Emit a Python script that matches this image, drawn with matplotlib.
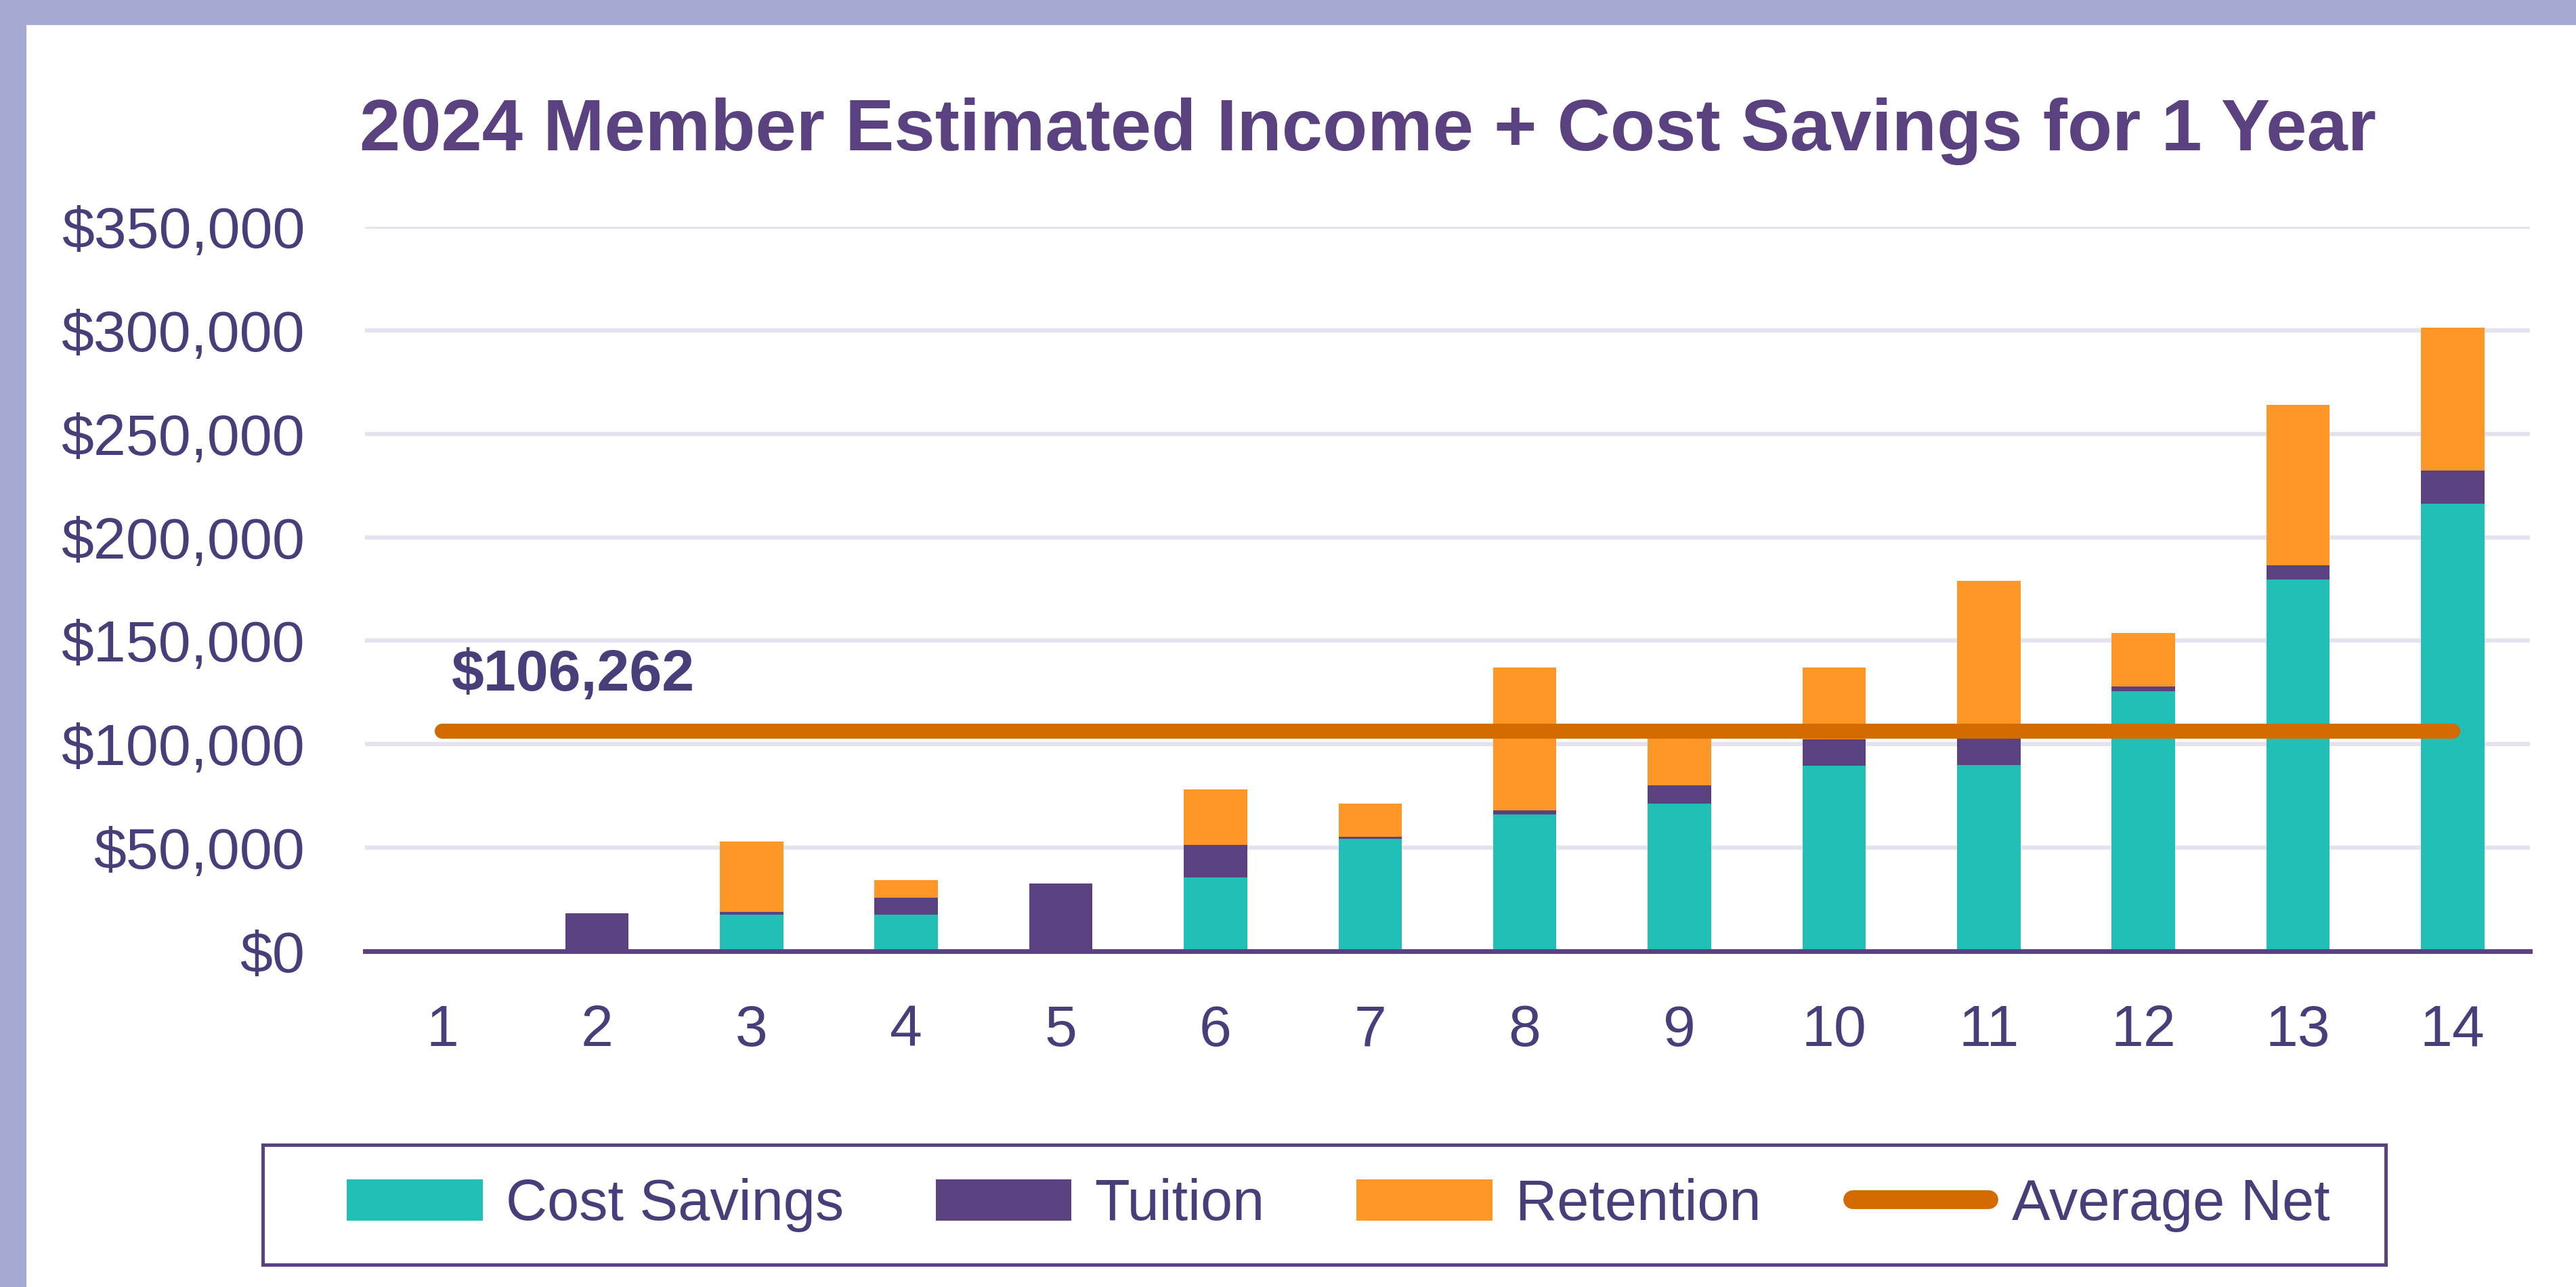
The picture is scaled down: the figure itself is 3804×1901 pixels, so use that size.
import numpy as np
import matplotlib
matplotlib.use("Agg")
import matplotlib.pyplot as plt
from matplotlib.patches import Patch, Rectangle
from matplotlib.lines import Line2D
from matplotlib.ticker import FuncFormatter

plt.rcParams['font.family'] = ['Liberation Sans', 'DejaVu Sans']

# data
members = [str(i) for i in range(1, 15)]
cost_savings = [0, 0, 17500, 17500, 0, 35800, 54300, 66100, 71200, 89500, 90000, 125700, 179600, 216300]
tuition = [0, 18300, 1500, 8400, 32700, 15600, 1000, 2000, 9100, 13000, 13000, 2200, 6800, 16000]
retention = [0, 0, 34000, 8500, 0, 26700, 16000, 69100, 23700, 34500, 76000, 25900, 77700, 68800]
average_net = 106262

title = '2024 Member Estimated Income + Cost Savings for 1 Year'

teal = '#22BFB6'
purple = '#5A4280'
orange = '#FD9828'
line_col = '#D36C00'
text_col = '#463F7A'
grid_col = '#E6E1EF'

W, H = 3804, 1901
fig = plt.figure(figsize=(W / 100, H / 100), dpi=100)
fig.patch.set_facecolor('#A5AAD2')
fig.patches.append(Rectangle((39 / W, 0), 1 - 39 / W, 1 - 37 / H,
                             transform=fig.transFigure, facecolor='white',
                             edgecolor='none', zorder=-5))

ax = fig.add_axes([539 / W, 1 - 1405 / H, (3736 - 539) / W, (1405 - 335) / H])
ax.set_facecolor('none')

x = np.arange(1, 15)
cs = np.array(cost_savings)
tu = np.array(tuition)
re = np.array(retention)
bw = 0.41
ax.bar(x, cs, bw, color=teal, zorder=2)
ax.bar(x, tu, bw, bottom=cs, color=purple, zorder=2)
ax.bar(x, re, bw, bottom=cs + tu, color=orange, zorder=2)
ax.plot([x[0], x[-1]], [average_net, average_net], color=line_col, lw=16,
        solid_capstyle='round', zorder=3)
ax.text(1.06, 133000, '${:,}'.format(average_net), color=text_col,
        fontsize=62, fontweight='bold', va='center', ha='left')

ax.set_xlim(0.5, 14.5)
ax.set_ylim(0, 350000)
ax.set_yticks(np.arange(0, 350001, 50000))
ax.yaxis.set_major_formatter(FuncFormatter(lambda v, p: '${:,.0f}'.format(v)))
ax.set_xticks(x)
ax.set_xticklabels(members)
ax.tick_params(axis='both', length=0, labelsize=62, colors=text_col)
ax.tick_params(axis='y', pad=64)
ax.tick_params(axis='x', pad=56)
ax.yaxis.grid(True, color=grid_col, lw=4.5)
ax.set_axisbelow(True)
for s in ['top', 'right', 'left']:
    ax.spines[s].set_visible(False)
ax.spines['bottom'].set_color(purple)
ax.spines['bottom'].set_linewidth(5)
ax.spines['bottom'].set_zorder(4)

fig.text(0.531, 1 - 194 / H, title, ha='center', va='center',
         fontsize=78, fontweight='bold', color=purple)

handles = [Patch(facecolor=teal, label='Cost Savings'),
           Patch(facecolor=purple, label='Tuition'),
           Patch(facecolor=orange, label='Retention'),
           Line2D([], [], color=line_col, lw=20, solid_capstyle='round', label='Average Net')]
leg = fig.legend(handles=handles, loc='center', ncol=4, frameon=False,
                 bbox_to_anchor=(0.5195, 1 - 1780 / H), bbox_transform=fig.transFigure,
                 fontsize=61, handlelength=2.37, handleheight=0.72,
                 handletextpad=0.4, columnspacing=1.6)
for t in leg.get_texts():
    t.set_color(text_col)
fig.patches.append(Rectangle((388 / W, 1 - 1868 / H), (3523 - 388) / W, 177 / H,
                             transform=fig.transFigure, facecolor='none',
                             edgecolor=purple, lw=3.6, zorder=1))

fig.savefig('out.png', dpi=100, facecolor=fig.get_facecolor())
